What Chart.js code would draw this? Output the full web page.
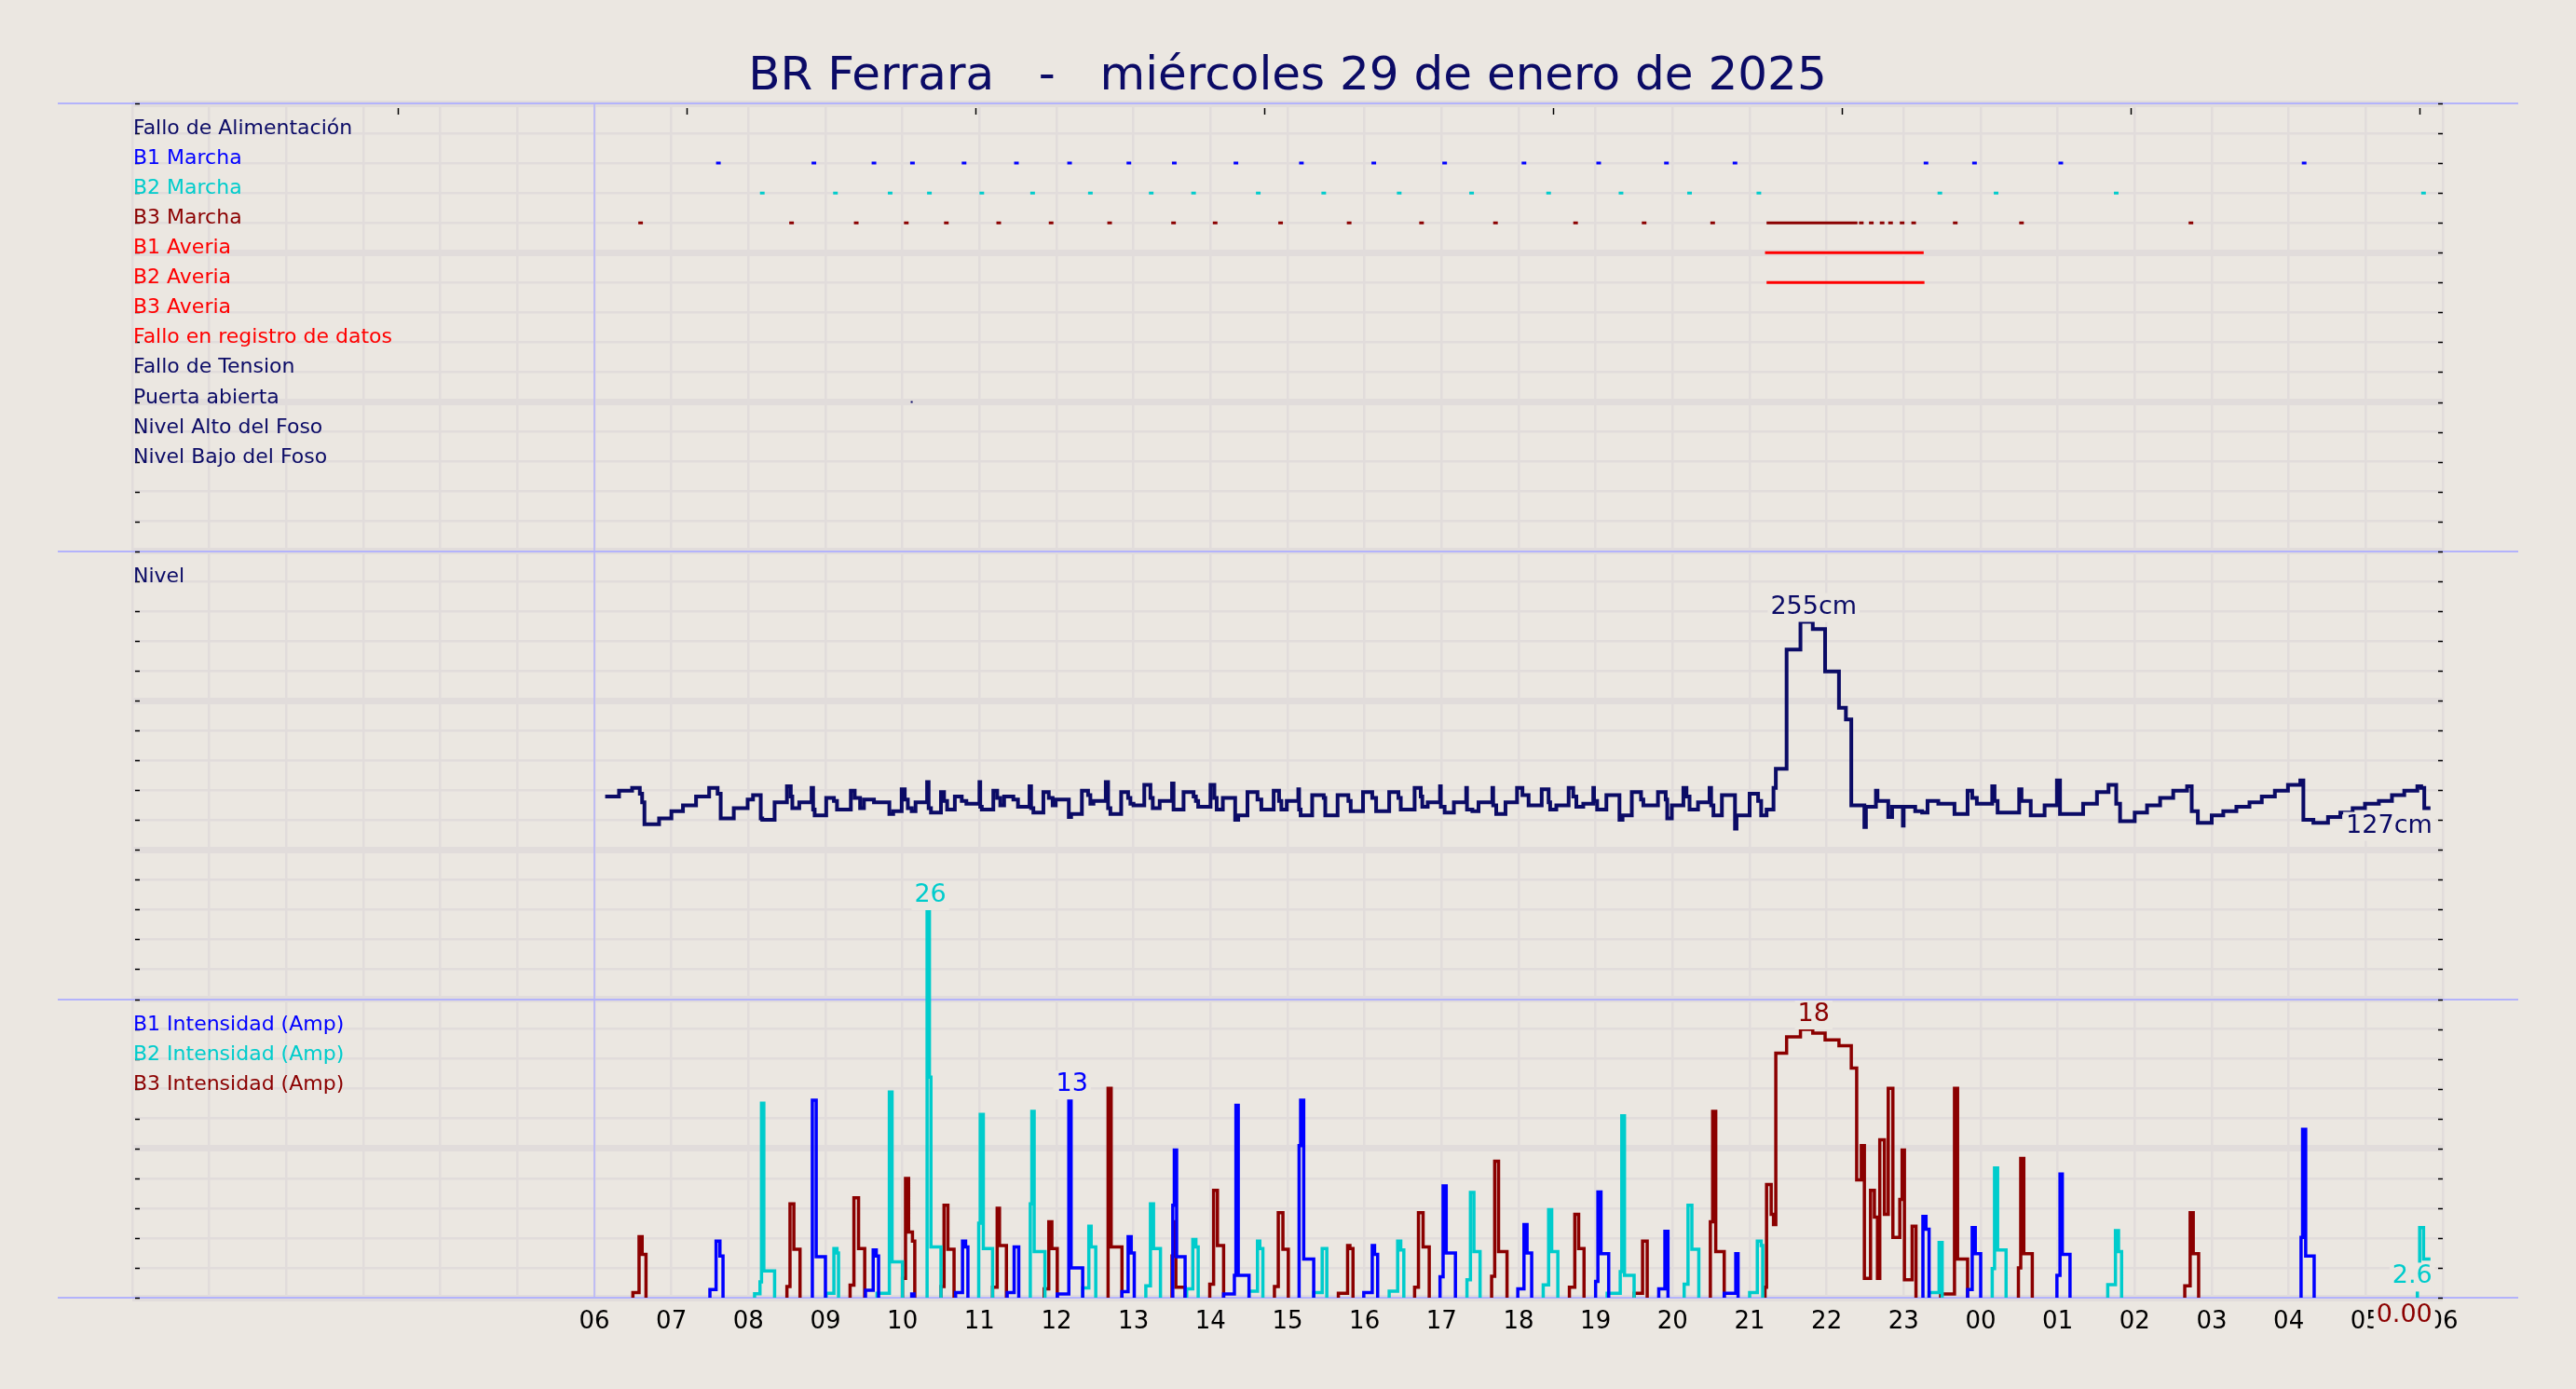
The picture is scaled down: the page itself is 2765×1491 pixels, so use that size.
<!DOCTYPE html>
<html><head><meta charset="utf-8">
<script src="https://cdn.jsdelivr.net/npm/chart.js@4.4.1/dist/chart.umd.min.js"></script>
<style>html,body{margin:0;padding:0;background:#ebe7e1;overflow:hidden}canvas{display:block}</style>
</head><body>
<canvas id="c" width="2765" height="1491"></canvas>
<script>
// ---------------- DATA ----------------
const TITLE = 'BR Ferrara   -   miércoles 29 de enero de 2025';
const xTickLabels = ['','','','','','','06','07','08','09','10','11','12','13','14','15','16','17','18','19','20','21','22','23','00','01','02','03','04','05','06'];
const topTickHours = [3.45, 7.2, 10.95, 14.7, 18.45, 22.2, 25.95, 29.7];

const eventRowNames = ['Fallo de Alimentación','B1 Marcha','B2 Marcha','B3 Marcha','B1 Averia','B2 Averia','B3 Averia','Fallo en registro de datos','Fallo de Tension','Puerta abierta','Nivel Alto del Foso','Nivel Bajo del Foso'];
const panelNames = ['Nivel','B1 Intensidad (Amp)','B2 Intensidad (Amp)','B3 Intensidad (Amp)'];

// event times (hours from 00:00 of the day) — short state markers
const b1MarchaTimes = [7.61,8.85,9.63,10.13,10.8,11.48,12.17,12.94,13.53,14.33,15.18,16.12,17.04,18.07,19.04,19.92,20.81,23.29,23.92,25.04,28.2];
const b2MarchaTimes = [8.18,9.13,9.84,10.35,11.03,11.69,12.44,13.23,13.78,14.62,15.47,16.45,17.39,18.39,19.33,20.22,21.12,23.47,24.2,25.76,29.75];
const b3MarchaTimes = [6.6,8.56,9.4,10.05,10.57,11.25,11.93,12.69,13.52,14.06,14.91,15.8,16.74,17.7,18.74,19.63,20.52,22.45,22.58,22.72,22.83,22.98,23.13,23.67,24.53,26.73];
const b3MarchaSpans = [[21.22,22.40]];
const b1AveriaSpans = [[21.20,23.26]];
const b2AveriaSpans = [[21.22,23.27]];
const puertaAbiertaTimes = [10.12];

// level (cm), step values [hour, cm]
const levelSteps = [[6.14,135],[6.32,139],[6.49,141],[6.59,137],[6.62,131],[6.65,116],[6.84,120],[7.00,125],[7.15,129],[7.32,135],[7.49,141],[7.60,137],[7.64,120],[7.81,127],[7.99,133],[8.06,136],[8.16,120],[8.18,119],[8.34,131],[8.50,142],[8.55,135],[8.57,127],[8.66,131],[8.82,141],[8.84,126],[8.86,122],[9.01,134],[9.11,132],[9.15,126],[9.33,139],[9.38,134],[9.45,127],[9.50,133],[9.63,131],[9.83,123],[9.88,125],[9.99,140],[10.03,133],[10.07,127],[10.12,125],[10.17,131],[10.32,145],[10.34,127],[10.37,124],[10.50,138],[10.54,132],[10.58,126],[10.68,135],[10.77,132],[10.83,130],[11.00,145],[11.01,128],[11.03,126],[11.18,139],[11.23,134],[11.27,129],[11.32,135],[11.44,133],[11.50,128],[11.65,142],[11.67,127],[11.70,124],[11.83,138],[11.90,134],[11.95,129],[11.99,133],[12.16,121],[12.19,123],[12.33,139],[12.41,136],[12.44,130],[12.48,132],[12.64,145],[12.67,127],[12.70,123],[12.84,138],[12.93,134],[12.96,130],
[13.00,129],[13.14,143],[13.22,134],[13.25,127],[13.34,132],[13.50,144],[13.52,126],[13.65,138],[13.78,135],[13.81,132],[13.84,128],[14.00,143],[14.05,134],[14.08,126],[14.16,134],[14.32,119],[14.36,122],[14.48,138],[14.61,133],[14.66,126],[14.82,139],[14.89,132],[14.92,126],[14.99,132],[15.14,140],[15.15,126],[15.17,122],[15.32,136],[15.47,134],[15.49,122],[15.65,136],[15.79,132],[15.82,125],[15.98,138],[16.10,134],[16.15,125],[16.32,138],[16.44,134],[16.47,126],[16.65,141],[16.73,135],[16.75,128],[16.82,131],[16.98,142],[16.99,128],[17.04,124],[17.16,131],[17.32,141],[17.33,126],[17.40,125],[17.48,131],[17.66,141],[17.67,129],[17.71,123],[17.83,131],[17.98,141],[18.05,136],[18.13,129],[18.30,140],[18.39,131],[18.41,126],[18.49,129],[18.65,141],[18.71,135],[18.75,128],[18.84,130],[18.97,141],[18.98,132],[19.02,126],[19.14,136],[19.31,119],[19.35,122],[19.47,138],[19.59,133],[19.62,129],[19.81,138],[19.91,133],[19.93,120],[19.99,129],[20.14,141],[20.18,135],[20.22,126],
[20.33,131],[20.48,141],[20.50,129],[20.53,122],[20.64,136],[20.81,113],[20.83,122],[21.00,137],[21.11,132],[21.15,122],[21.22,126],[21.31,141],[21.34,154],[21.48,236],[21.66,255],[21.82,250],[21.98,221],[22.16,196],[22.25,188],[22.32,129],[22.49,114],[22.51,128],[22.64,139],[22.66,132],[22.80,121],[22.85,128],[22.99,115],[23.00,128],[23.15,125],[23.24,124],[23.31,132],[23.45,130],[23.66,123],[23.83,139],[23.89,134],[23.95,130],[24.15,142],[24.18,132],[24.22,124],[24.50,140],[24.53,132],[24.65,122],[24.83,129],[24.99,146],[25.03,123],[25.33,130],[25.51,138],[25.66,143],[25.76,130],[25.81,118],[26.00,124],[26.16,129],[26.33,134],[26.50,139],[26.68,142],[26.74,125],[26.82,117],[27.00,122],[27.15,125],[27.32,128],[27.49,131],[27.65,135],[27.82,139],[27.99,143],[28.15,146],[28.19,119],[28.32,117],[28.51,121],[28.67,124],[28.83,127],[28.99,130],[29.17,132],[29.34,136],[29.50,139],[29.67,142],[29.72,141],[29.76,127],[29.84,127]];

// pump currents (A): each pulse is a list of [hour, amps] steps
const b1Pulses = [
 [[7.5,0.54],[7.58,3.8],[7.63,2.8],[7.67,0]],
 [[8.83,13.25],[8.88,2.75],[9.0,0]],
 [[9.52,0.5],[9.62,3.2],[9.66,2.8],[9.69,0]],
 [[10.12,0.25],[10.15,0]],
 [[10.69,0.35],[10.78,3.8],[10.82,3.4],[10.85,0]],
 [[11.36,0.35],[11.45,3.4],[11.51,0]],
 [[12.01,0.25],[12.16,13.3],[12.19,2.0],[12.34,0]],
 [[12.85,0.4],[12.93,4.1],[12.97,3.0],[13.01,0]],
 [[13.51,6.2],[13.53,9.9],[13.56,2.75],[13.67,0]],
 [[14.17,0.25],[14.31,1.5],[14.33,12.9],[14.36,1.5],[14.5,0]],
 [[15.15,10.2],[15.17,13.25],[15.21,2.6],[15.34,0]],
 [[15.99,0.35],[16.1,3.5],[16.13,2.9],[16.17,0]],
 [[16.98,1.4],[17.02,7.5],[17.06,3.0],[17.18,0]],
 [[17.99,0.6],[18.07,4.9],[18.11,3.0],[18.17,0]],
 [[19.0,1.1],[19.03,7.1],[19.07,2.96],[19.17,0]],
 [[19.82,0.6],[19.9,4.45],[19.94,0]],
 [[20.67,0.3],[20.82,2.96],[20.85,0]],
 [[23.25,5.45],[23.29,4.6],[23.33,0]],
 [[23.83,0.54],[23.89,4.7],[23.93,2.96],[24.0,0]],
 [[24.99,1.5],[25.03,8.3],[25.06,2.9],[25.16,0]],
 [[28.16,4.05],[28.18,11.3],[28.22,2.8],[28.33,0]]
];
const b2Pulses = [
 [[8.08,0.26],[8.15,1.07],[8.17,13.05],[8.2,1.8],[8.34,0]],
 [[9.01,0.3],[9.11,3.3],[9.15,3.0],[9.17,0]],
 [[9.67,0.3],[9.83,13.8],[9.865,2.4],[10.0,0]],
 [[10.32,26],[10.35,14.8],[10.37,3.4],[10.5,0]],
 [[10.99,5.0],[11.01,12.3],[11.05,3.3],[11.17,0]],
 [[11.66,6.3],[11.68,12.5],[11.71,3.1],[11.85,0]],
 [[12.34,0.65],[12.42,4.8],[12.45,3.4],[12.51,0]],
 [[13.16,0.8],[13.22,6.3],[13.26,3.3],[13.35,0]],
 [[13.69,0.6],[13.77,3.9],[13.81,3.4],[13.84,0]],
 [[14.5,0.44],[14.61,3.8],[14.64,3.3],[14.68,0]],
 [[15.34,0.34],[15.45,3.3],[15.51,0]],
 [[16.32,0.44],[16.43,3.8],[16.47,3.2],[16.51,0]],
 [[17.33,1.2],[17.375,7.06],[17.42,3.1],[17.5,0]],
 [[18.32,0.86],[18.39,5.9],[18.43,3.1],[18.51,0]],
 [[19.15,0.3],[19.32,1.75],[19.34,12.2],[19.375,1.5],[19.5,0]],
 [[20.15,0.9],[20.2,6.2],[20.25,3.25],[20.34,0]],
 [[21.0,0.35],[21.1,3.8],[21.15,3.5],[21.17,0]],
 [[23.33,0.35],[23.46,3.7],[23.5,0]],
 [[24.15,1.96],[24.18,8.7],[24.22,3.2],[24.33,0]],
 [[25.65,0.88],[25.75,4.5],[25.79,3.1],[25.83,0]],
 [[29.67,0.9],[29.7,4.7],[29.75,2.6],[29.84,2.6]]
];
const b3Pulses = [
 [[6.5,0.35],[6.58,4.1],[6.62,2.9],[6.67,0]],
 [[8.5,0.75],[8.54,6.3],[8.59,3.25],[8.67,0]],
 [[9.32,0.85],[9.37,6.7],[9.43,3.3],[9.51,0]],
 [[10.0,1.3],[10.04,8.0],[10.08,4.4],[10.13,3.8],[10.16,0]],
 [[10.5,0.75],[10.54,6.2],[10.59,3.25],[10.67,0]],
 [[11.17,0.7],[11.23,6.0],[11.26,3.5],[11.35,0]],
 [[11.84,0.6],[11.9,5.1],[11.94,3.3],[12.01,0]],
 [[12.67,14.05],[12.71,3.4],[12.85,0]],
 [[13.5,2.8],[13.52,5.1],[13.55,0.7],[13.67,0]],
 [[13.99,0.9],[14.04,7.2],[14.09,3.5],[14.17,0]],
 [[14.83,0.75],[14.88,5.7],[14.94,3.25],[15.01,0]],
 [[15.66,0.3],[15.78,3.5],[15.81,3.3],[15.85,0]],
 [[16.65,0.7],[16.7,5.7],[16.76,3.4],[16.84,0]],
 [[17.65,1.44],[17.69,9.15],[17.74,3.1],[17.85,0]],
 [[18.66,0.7],[18.73,5.6],[18.78,3.3],[18.85,0]],
 [[19.5,0.3],[19.61,3.8],[19.67,0]],
 [[20.49,5.1],[20.52,12.5],[20.56,3.1],[20.67,0]],
 [[21.2,0.7],[21.22,7.6],[21.28,5.6],[21.31,4.9],[21.34,16.4],[21.48,17.5],[21.66,18.0],[21.82,17.75],[21.98,17.3],[22.16,16.9],[22.32,15.4],[22.39,7.9],[22.45,10.2],[22.49,1.3],[22.57,7.2],[22.62,5.4],[22.66,1.3],[22.69,10.6],[22.75,5.6],[22.8,14.05],[22.86,4.05],[22.95,6.6],[22.98,9.9],[23.01,1.2],[23.11,4.8],[23.16,0]],
 [[23.48,0.25],[23.66,14.05],[23.7,2.6],[23.83,0]],
 [[24.49,2.0],[24.52,9.35],[24.56,2.96],[24.67,0]],
 [[26.65,0.8],[26.72,5.7],[26.76,2.96],[26.83,0]],
 [[29.84,0]]
];

// ---------------- STYLE / LAYOUT ----------------
const BG = '#ebe7e1', GRID = '#e1dcdb', PANEL = '#b3b3fb';
const NAVY = '#0b0b66', BLUE = '#0000ff', CYAN = '#00cccc', DRED = '#8b0000', RED = '#ff0000';
const FONT = 'DejaVu Sans';
const eventRowColors = [NAVY, BLUE, CYAN, DRED, RED, RED, RED, RED, NAVY, NAVY, NAVY, NAVY];
const EVENT_TOP_ROW = 39;
const PANEL_LABEL_ROWS = [24, 9, 8, 7];
const panelColors = [NAVY, BLUE, CYAN, DRED];
const PANEL_BREAKS = [40, 25, 10, 0];
const EVENT_LEN = 0.06;

function eventData(times, spans, row, len) {
  const segs = times.map(t => [t - len / 2, t + len / 2]).concat(spans).sort((a, b) => a[0] - b[0]);
  const out = [];
  segs.forEach(([a, b]) => out.push({x: a, y: row}, {x: b, y: row}, {x: b, y: null}));
  return out;
}
function pulseData(pulses) {
  const out = [];
  pulses.forEach(p => {
    out.push({x: p[0][0], y: 0});
    p.forEach(([t, v]) => out.push({x: t, y: v}));
    out.push({x: p[p.length - 1][0], y: null});
  });
  return out;
}
const ev = (data, color, w) => ({data, yAxisID: 'y', borderColor: color, borderWidth: w || 3, pointRadius: 0, spanGaps: false, borderCapStyle: 'butt'});

const datasets = [
  ev(eventData(b1MarchaTimes, [], 38, EVENT_LEN), BLUE),
  ev(eventData(b2MarchaTimes, [], 37, EVENT_LEN), CYAN),
  ev(eventData(b3MarchaTimes, b3MarchaSpans, 36, EVENT_LEN), DRED),
  ev(eventData([], b1AveriaSpans, 35, EVENT_LEN), RED),
  ev(eventData([], b2AveriaSpans, 34, EVENT_LEN), RED),
  ev(eventData(puertaAbiertaTimes, [], 30, 0.025), NAVY, 2),
  {key: 'level', data: levelSteps.map(([t, v]) => ({x: t, y: v})), yAxisID: 'yLevel', borderColor: NAVY, borderWidth: 4, pointRadius: 0, stepped: 'before'},
  {key: 'b1', data: pulseData(b1Pulses), yAxisID: 'yAmp', borderColor: BLUE, borderWidth: 3.5, pointRadius: 0, stepped: 'before', spanGaps: false},
  {key: 'b2', data: pulseData(b2Pulses), yAxisID: 'yAmp', borderColor: CYAN, borderWidth: 3.5, pointRadius: 0, stepped: 'before', spanGaps: false},
  {key: 'b3', data: pulseData(b3Pulses), yAxisID: 'yAmp', borderColor: DRED, borderWidth: 3.5, pointRadius: 0, stepped: 'before', spanGaps: false}
];

// value labels: max above, last below
const valueLabels = [
  {key: 'level', kind: 'max', color: NAVY, fmt: v => Math.round(v) + 'cm'},
  {key: 'level', kind: 'last', color: NAVY, fmt: v => Math.round(v) + 'cm'},
  {key: 'b2', kind: 'max', color: CYAN, fmt: v => String(Math.round(v))},
  {key: 'b2', kind: 'last', color: CYAN, fmt: v => v.toFixed(1)},
  {key: 'b1', kind: 'max', color: BLUE, fmt: v => String(Math.round(v))},
  {key: 'b3', kind: 'max', color: DRED, fmt: v => String(Math.round(v))},
  {key: 'b3', kind: 'last', color: DRED, fmt: v => v.toFixed(2)}
];

function line(ctx, x1, y1, x2, y2) { ctx.beginPath(); ctx.moveTo(x1, y1); ctx.lineTo(x2, y2); ctx.stroke(); }

const decor = {
  id: 'decor',
  beforeDraw(chart) {
    const c = chart.ctx; c.save(); c.fillStyle = BG; c.fillRect(0, 0, chart.width, chart.height); c.restore();
  },
  beforeDatasetsDraw(chart) {
    const {ctx, chartArea: a, scales: {x, y}} = chart;
    ctx.save();
    ctx.strokeStyle = PANEL; ctx.lineWidth = 2;
    PANEL_BREAKS.forEach(u => { const py = Math.round(y.getPixelForValue(u)); line(ctx, a.left - 80, py, a.right + 81, py); });
    ctx.lineWidth = 1.5;
    const px = x.getPixelForValue(6);
    line(ctx, px, a.top, px, a.bottom);
    ctx.restore();
  },
  afterDraw(chart) {
    const {ctx, chartArea: a, scales: {x, y, yLevel, yAmp}} = chart;
    ctx.save();
    ctx.strokeStyle = '#000'; ctx.lineWidth = 1.5;
    for (let u = 0; u <= 40; u++) {
      const py = Math.round(y.getPixelForValue(u)) + 0.5;
      line(ctx, a.left + 3, py, a.left + 8, py);
      line(ctx, a.right - 5, py, a.right, py);
    }
    topTickHours.forEach(h => { const px = Math.round(x.getPixelForValue(h)) + 0.5; line(ctx, px, a.top + 5, px, a.top + 12); });
    ctx.font = '22px "' + FONT + '"'; ctx.textAlign = 'left'; ctx.textBaseline = 'alphabetic';
    eventRowNames.forEach((n, i) => { ctx.fillStyle = eventRowColors[i]; ctx.fillText(n, a.left + 1, y.getPixelForValue(EVENT_TOP_ROW - i) + 1); });
    panelNames.forEach((n, i) => { ctx.fillStyle = panelColors[i]; ctx.fillText(n, a.left + 1, y.getPixelForValue(PANEL_LABEL_ROWS[i]) + 1); });
    ctx.font = '27px "' + FONT + '"'; ctx.textBaseline = 'middle';
    valueLabels.forEach(l => {
      const ds = chart.data.datasets.find(d => d.key === l.key);
      const sc = ds.yAxisID === 'yLevel' ? yLevel : yAmp;
      const pts = ds.data;
      let idx = -1;
      if (l.kind === 'max') {
        pts.forEach((p, i) => { if (p.y !== null && (idx < 0 || p.y > pts[idx].y)) idx = i; });
      } else {
        for (let i = pts.length - 1; i >= 0; i--) if (pts[i].y !== null) { idx = i; break; }
      }
      const p = pts[idx];
      const txt = l.fmt(p.y);
      const w = ctx.measureText(txt).width;
      let cy, left;
      if (l.kind === 'max') {
        const nx = pts[idx + 1] ? pts[idx + 1].x : p.x;
        const cx = x.getPixelForValue(nx) + 1; cy = sc.getPixelForValue(p.y) - 16; left = cx - w / 2;
      } else {
        const rx = x.getPixelForValue(p.x) + 2; cy = sc.getPixelForValue(p.y) + 19; left = rx - w;
      }
      ctx.fillStyle = BG; ctx.fillRect(left - 3, cy - 15, w + 6, 31);
      ctx.fillStyle = l.color; ctx.textAlign = 'left';
      ctx.fillText(txt, left, cy);
    });
    ctx.restore();
  }
};

new Chart(document.getElementById('c'), {
  type: 'line',
  data: {datasets},
  options: {
    responsive: false, animation: false, devicePixelRatio: 1,
    layout: {padding: {left: 142, right: 143, top: 0, bottom: 0}},
    plugins: {
      legend: {display: false}, tooltip: {enabled: false},
      title: {display: true, text: TITLE, color: NAVY, font: {family: FONT, size: 50, weight: 'normal', lineHeight: 1.1}, padding: {top: 56, bottom: 0}}
    },
    scales: {
      x: {type: 'linear', min: 0, max: 30, position: 'bottom',
          ticks: {stepSize: 1, autoSkip: false, maxRotation: 0, color: '#000', font: {family: FONT, size: 26}, padding: 11,
                  callback: v => xTickLabels[v] !== undefined ? xTickLabels[v] : ''},
          grid: {color: GRID, lineWidth: 2.5, drawTicks: false}, border: {display: false},
          afterFit: s => { s.height = 98; }},
      y: {type: 'linear', min: 0, max: 40, position: 'left',
          ticks: {display: false, stepSize: 1},
          grid: {color: GRID, lineWidth: c => (c.tick && c.tick.value % 5 === 0) ? 7 : 2.5, drawTicks: false}, border: {display: false},
          afterFit: s => { s.width = 0; }},
      yLevel: {type: 'linear', display: false, min: -209.3, max: 611.2},
      yAmp: {type: 'linear', display: false, min: 0, max: 80.125}
    }
  },
  plugins: [decor]
});
</script>
</body></html>
